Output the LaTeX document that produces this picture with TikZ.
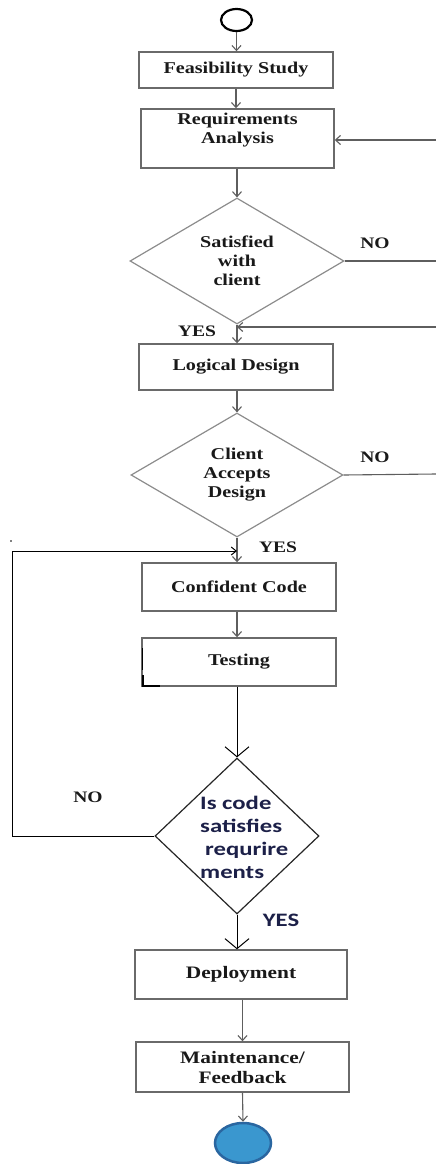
\documentclass[tikz,border=0pt]{standalone}
\usepackage{fontspec}
\setmainfont{Liberation Serif}
\newfontfamily\serifb[FakeStretch=1.22]{Liberation Serif Bold}
\newfontfamily\sansb[FakeStretch=1.3]{Carlito Bold}
\usetikzlibrary{shapes.geometric,arrows.meta}
\definecolor{linegray}{HTML}{5E5E5E}
\definecolor{boxgray}{HTML}{6A6A6A}
\definecolor{diagray}{HTML}{8C8C8C}
\definecolor{navy}{RGB}{28,32,72}
\definecolor{endfill}{HTML}{3A97CF}
\definecolor{endline}{HTML}{2A66A0}
\begin{document}
\begin{tikzpicture}[x=1pt,y=-1pt,
  box/.style={draw=boxgray,line width=1.4pt,rectangle,inner sep=0pt,align=center,
    font=\serifb\fontsize{16.5}{19}\selectfont,text=black!90},
  bigbox/.style={box,font=\serifb\fontsize{17.5}{20}\selectfont},
  dia/.style={draw=diagray,line width=1.2pt,shape=diamond,inner sep=0pt,align=center,
    font=\serifb\fontsize{16.5}{19}\selectfont,text=black!90},
  boxtext/.style={inner sep=0pt,align=center,font=\serifb\fontsize{16.5}{19}\selectfont,text=black!90},
  lab/.style={inner sep=0pt,font=\serifb\fontsize{16}{19}\selectfont,text=black!90},
  sanslab/.style={inner sep=0pt,font=\sansb\fontsize{19}{23}\selectfont,text=navy},
  conn/.style={draw=linegray,line width=1.1pt},
  arr/.style={conn,-{Straight Barb[length=5pt,width=9pt]}},
  bigarr/.style={draw=black,line width=1pt,-{Straight Barb[length=10pt,width=24pt]}},
  loopline/.style={draw=black,line width=1pt,-{Straight Barb[length=5pt,width=8pt]}}
]
\useasboundingbox (0,0) rectangle (436,1164);
\clip (0,0) rectangle (436,1164);

% nodes
\node[draw=black,line width=2.2pt,ellipse,minimum width=31,minimum height=22,inner sep=0pt] (start) at (236.5,20) {};
\node[box,minimum width=194,minimum height=36] (fs) at (236,70) {Feasibility Study};
\node[box,minimum width=193,minimum height=59] (ra) at (237.5,138.5) {};
\node[boxtext] (ratxt) at (237.5,130) {Requirements\\Analysis};
\node[dia,minimum width=214,minimum height=126,aspect=1.7] (d1) at (237,261) {Satisfied\\with\\client};
\node[box,minimum width=194,minimum height=46] (ld) at (236,367) {Logical Design};
\node[dia,minimum width=212,minimum height=124,aspect=1.7] (d2) at (237,475) {Client\\Accepts\\Design};
\node[box,minimum width=194,minimum height=48] (cc) at (239,587) {Confident Code};
\node[box,minimum width=194,minimum height=48] (ts) at (239,662) {Testing};
\node[dia,draw=black!85,minimum width=164,minimum height=156,aspect=1.05] (d3) at (237,836) {};
\node[sanslab,align=left,anchor=west] (d3txt) at (200,837) {Is code\\satisfies\\\hspace*{5pt}requrire\\ments};
\node[bigbox,minimum width=212,minimum height=49] (dep) at (241,974.5) {Deployment};
\node[bigbox,minimum width=213,minimum height=50] (mt) at (242.5,1067) {Maintenance/\\Feedback};
\node[draw=endline,fill=endfill,line width=2.5pt,ellipse,minimum width=56,minimum height=40,inner sep=0pt] (endc) at (243,1143) {};

% labels
\node[lab] (no1) at (375,243) {NO};
\node[lab] (yes1) at (197,331) {YES};
\node[lab] (no2) at (375,457) {NO};
\node[lab] (yes2) at (278,547) {YES};
\node[lab] (no3) at (88,797) {NO};
\node[sanslab] (yes3) at (281,920) {YES};

% free ends
\coordinate (r1) at (436,261);
\coordinate (r2) at (436,140);
\coordinate (r3) at (436,327);
\coordinate (r4) at (436,474);
\coordinate (lb) at (12,836);
\coordinate (lt) at (12,551);
\coordinate (lj) at (237,551);

% connectors
\draw[arr] (start) -- (start |- fs.north);
\draw[arr] (fs.south) -- (fs.south |- ra.north);
\draw[arr] (ra.south -| d1.north) -- (d1.north);
\draw[conn] (d1.east) -- (r1);
\draw[arr] (r2) -- (ra.east |- r2);
\draw[arr] (d1.south) -- (d1.south |- ld.north);
\draw[arr] (r3) -- (d1.south |- r3);
\draw[arr] (ld.south -| d2.north) -- (d2.north);
\draw[conn] (d2.east) -- (r4);
\draw[arr] (d2.south) -- (d2.south |- cc.north);
\draw[arr] (d2.south |- cc.south) -- (d2.south |- ts.north);
\draw[bigarr] (ts.south -| d3.north) -- (d3.north);
\draw[loopline] (d3.west) -- (lb) -- (lt) -- (lj);
\draw[bigarr] (d3.south) -- (d3.south |- dep.north);
\draw[arr] (dep.south -| mt.north) -- (mt.north);
\draw[arr] (mt.south) -- (endc.north);

% small marks of the original
\draw[black,line width=1.2pt] (142.5,648) -- (142.5,670);
\draw[black,line width=1.2pt] (143,675) -- (143,686) -- (160,686);
\fill[black] (11,541) circle (0.8);
\end{tikzpicture}
\end{document}
